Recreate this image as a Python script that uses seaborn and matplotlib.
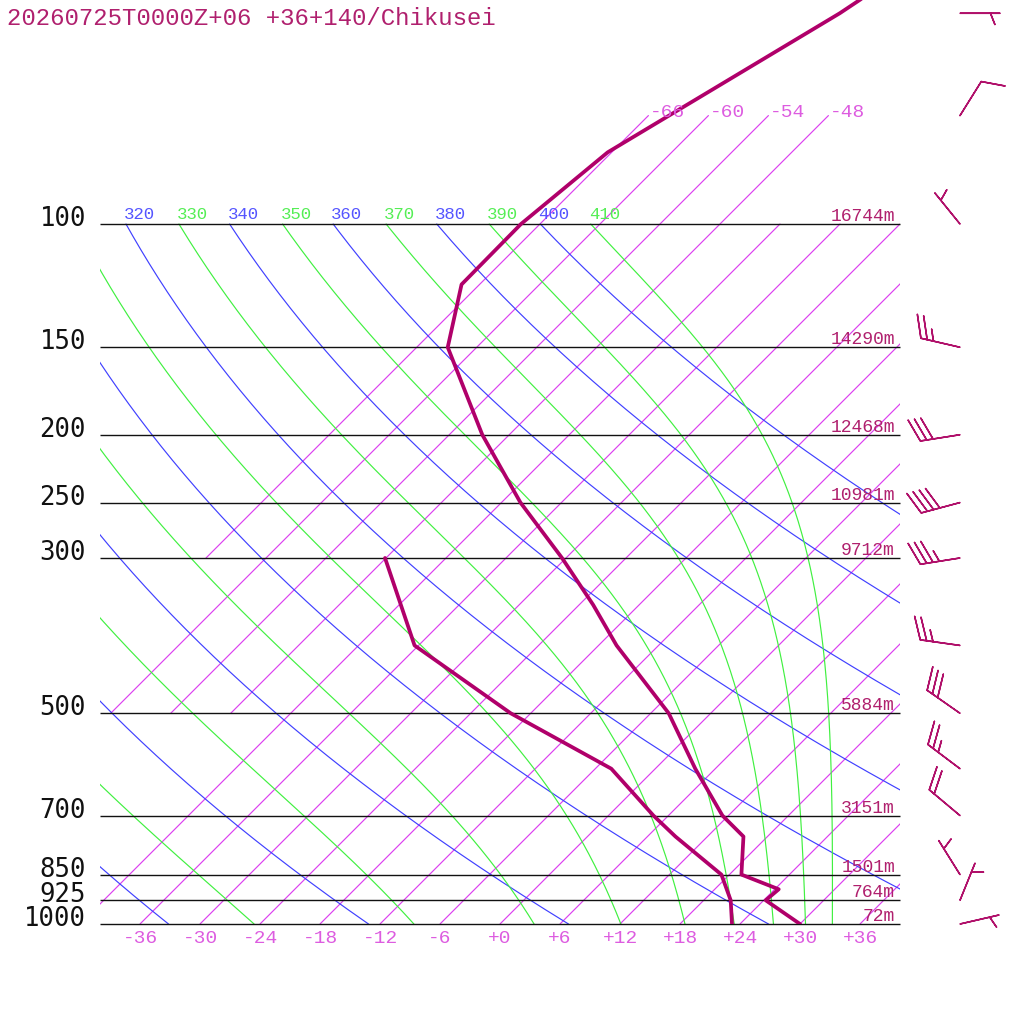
import numpy as np
import pandas as pd
import matplotlib
matplotlib.use("Agg")
import matplotlib.pyplot as plt
import seaborn as sns

# Profile data
temp_p = [1000, 925, 892, 850, 750, 700, 600, 500, 400, 350, 300, 250, 200, 150, 122, 100, 79, 50, 30]
temp_c = [30.0, 24.2, 24.4, 19.2, 15.6, 11.4, 4.0, -4.2, -16.2, -22.6, -30.4, -40.1, -50.7, -62.9, -67.8, -67.9, -66.4, -57.1, -49.3]
dewp_p = [1000, 925, 850, 750, 700, 600, 500, 400, 300]
dewp_c = [23.2, 20.7, 17.2, 8.8, 4.5, -4.4, -20.0, -36.4, -48.1]

# Standard levels and their heights
levels = [100, 150, 200, 250, 300, 500, 700, 850, 925, 1000]
heights = ["16744m", "14290m", "12468m", "10981m", "9712m", "5884m", "3151m", "1501m", "764m", "72m"]

# Winds (direction from, speed)
barb_p = [1000, 925, 850, 700, 600, 500, 400, 300, 250, 200, 150, 100, 70, 50]
barb_dir = [77, 22, 328, 310, 307, 305, 278, 261, 255, 261, 283, 321, 32, 90]
barb_spd = [5, 5, 5, 20, 25, 30, 25, 35, 40, 30, 25, 5, 10, 5]

title = "20260725T0000Z+06 +36+140/Chikusei"

# Diagram grid
iso_low = list(range(-42, 37, 6))      # 1000 -> 100 hPa
iso_mid = [-60, -54, -48]              # 500 -> 70 hPa
iso_top = [-66]                        # 300 -> 70 hPa
dry_theta = list(range(240, 401, 20))
moist_theta = list(range(250, 411, 20))
theta_labels = list(range(310, 411, 10))
bottom_ticks = list(range(-36, 37, 6))

SKEW = 70.0
BLUE = "#4040ff"
GREEN = "#40f040"
ISO = "#dc40f0"
ISO_TXT = "#dd5ce0"
PROF = "#b0006a"
TXT = "#b0206e"


def skx(t, p):
    return np.asarray(t) + SKEW * np.log10(1000.0 / np.asarray(p, dtype=float))


def theta_e(tk, p):
    tc = tk - 273.15
    es = 6.112 * np.exp(17.67 * tc / (tc + 243.5))
    r = 622.0 * es / np.maximum(p - es, 1e-3)
    return tk * (1000.0 / p) ** (0.2854 * (1 - 0.00028 * r)) * np.exp((3.376 / tk - 0.00254) * r * (1 + 0.00081 * r))


def moist_temp(the, p):
    lo = np.full_like(p, 140.0)
    hi = np.full_like(p, 315.0)
    for _ in range(60):
        mid = 0.5 * (lo + hi)
        up = theta_e(mid, p) > the
        hi = np.where(up, mid, hi)
        lo = np.where(up, lo, mid)
    return 0.5 * (lo + hi) - 273.15


sns.set_theme(style="white")
plt.rcParams['font.family'] = ['Liberation Mono', 'DejaVu Sans Mono']

W = 1024
p_top = 10 ** (3 - 924 / 700)
fig = plt.figure(figsize=(10.24, 10.24), dpi=100)
ax = fig.add_axes([100 / W, 100 / W, 800 / W, 924 / W])
ax.set_yscale('log')
ax.axis('off')

pg = np.geomspace(1000, 100, 300)

# isotherms
for t in iso_low:
    ax.plot(skx([t, t], [1000, 100]), [1000, 100], color=ISO, lw=0.85)
for t in iso_mid:
    ax.plot(skx([t, t], [500, 70]), [500, 70], color=ISO, lw=0.85)
for t in iso_top:
    ax.plot(skx([t, t], [300, 70]), [300, 70], color=ISO, lw=0.85)
for t in iso_top + iso_mid:
    ax.annotate(str(t), xy=(skx(t, 70), 70), xytext=(1, -1), textcoords='offset pixels',
                ha='left', va='baseline', color=ISO_TXT, fontsize=14)

# dry adiabats
for th in dry_theta:
    tc = th * (pg / 1000.0) ** 0.2857 - 273.15
    ax.plot(skx(tc, pg), pg, color=BLUE, lw=0.85)

# moist adiabats
with np.errstate(all='ignore'):
    for th in moist_theta:
        tc = moist_temp(th, pg)
        ax.plot(skx(tc, pg), pg, color=GREEN, lw=0.85)

# theta labels along 100 hPa
with np.errstate(all='ignore'):
    for th in theta_labels:
        if th % 20 == 0:
            t100 = th * 0.1 ** 0.2857 - 273.15
            col = "#5555ff"
        else:
            t100 = moist_temp(th, np.array([100.0]))[0]
            col = "#55ee55"
        ax.annotate(str(th), xy=(skx(t100, 100), 100), xytext=(-2, 5), textcoords='offset pixels',
                    ha='left', va='baseline', color=col, fontsize=12.5, clip_on=True)

# pressure lines and labels
ax.hlines(levels, -40, 40, colors="#111111", lw=1.0, clip_on=False)
for p, h in zip(levels, heights):
    ax.annotate(str(p), xy=(-40, p), xytext=(-14, -2), textcoords='offset pixels',
                ha='right', va='baseline', color="#111111", fontsize=18.5,
                fontfamily='DejaVu Sans Mono', annotation_clip=False)
    ax.annotate(h, xy=(40, p), xytext=(-5, 3), textcoords='offset pixels',
                ha='right', va='baseline', color=TXT, fontsize=13)

for t in bottom_ticks:
    ax.annotate(f"{t:+d}", xy=(t, 1000), xytext=(0, -6), textcoords='offset pixels',
                ha='center', va='top', color=ISO_TXT, fontsize=14, annotation_clip=False)

# temperature and dew point
df_t = pd.DataFrame({"x": skx(temp_c, temp_p), "p": temp_p})
df_d = pd.DataFrame({"x": skx(dewp_c, dewp_p), "p": dewp_p})
sns.lineplot(data=df_t, x="x", y="p", sort=False, estimator=None, color=PROF, lw=2.7, ax=ax)
sns.lineplot(data=df_d, x="x", y="p", sort=False, estimator=None, color=PROF, lw=2.7, ax=ax)

# wind barbs
d = np.radians(barb_dir)
spd = np.array(barb_spd, dtype=float)
u = -spd * np.sin(d)
v = -spd * np.cos(d)
ax.barbs(np.full(len(barb_p), 46.0), barb_p, u, v, length=7.6, pivot='tip',
         sizes=dict(spacing=0.16, height=0.56, width=0.44),
         barbcolor="#b0106a", flagcolor="#b0106a", linewidth=1.1, clip_on=False)

ax.set_xlim(-40, 40)
ax.set_ylim(1000, p_top)
ax.axis('off')

fig.text(7 / W, 1 - 25 / W, title, ha='left', va='baseline', color=TXT, fontsize=17.3)

fig.savefig("out.png", dpi=100, facecolor="white")
